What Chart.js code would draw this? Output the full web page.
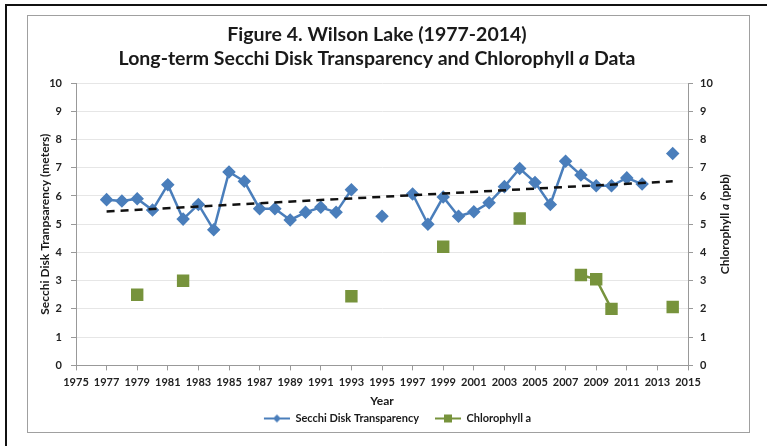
<!DOCTYPE html>
<html>
<head>
<meta charset="utf-8">
<script src="https://cdn.jsdelivr.net/npm/chart.js@4/dist/chart.umd.min.js"></script>
<style>
  body { margin: 0; background: #fff; width: 767px; height: 446px; overflow: hidden; position: relative; }
  #outer { position: absolute; left: 5px; top: 4px; width: 770px; height: 440px;
           border-top: 2px solid #111; border-left: 2px solid #111; border-bottom: 1px solid #999; }
  #frame { position: absolute; left: 27px; top: 15px; width: 721px; height: 416px;
           border: 1px solid #a0a0a0; overflow: hidden; background: #fff; }
  #frame canvas { display: block; }
</style>
</head>
<body>
<div id="outer"></div>
<div id="frame"><canvas id="wilsonChart" width="721" height="418"></canvas></div>
<script>
// Годы и данные
const years = [1977, 1978, 1979, 1980, 1981, 1982, 1983, 1984, 1985, 1986,
               1987, 1988, 1989, 1990, 1991, 1992, 1993, 1994, 1995, 1996,
               1997, 1998, 1999, 2000, 2001, 2002, 2003, 2004, 2005, 2006,
               2007, 2008, 2009, 2010, 2011, 2012, 2013, 2014];
const secchi = [5.87, 5.82, 5.9, 5.5, 6.4, 5.18, 5.7, 4.8, 6.85, 6.52,
                5.55, 5.55, 5.15, 5.42, 5.6, 5.42, 6.22, null, 5.28, null,
                6.07, 5.0, 5.96, 5.28, 5.44, 5.76, 6.33, 6.97, 6.48, 5.7,
                7.23, 6.74, 6.36, 6.36, 6.64, 6.42, null, 7.5];
const chlorophyll = [null, null, 2.5, null, null, 3.0, null, null, null, null,
                     null, null, null, null, null, null, 2.45, null, null, null,
                     null, null, 4.2, null, null, null, null, 5.2, null, null,
                     null, 3.2, 3.05, 2.0, null, null, null, 2.07];
const trendYears = [1977, 2014];
const trendValues = [5.45, 6.52];

const BLUE = '#4a7ebb';
const GREEN = '#77933c';
const FONT = 'Lato, "Open Sans", sans-serif';
const TEXT = '#1a1a1a';

// Значок легенды: линия с маркером (слева пустое место — отступ между пунктами)
function legendIcon(color, shape) {
    const c = document.createElement('canvas');
    c.width = 40; c.height = 12;
    const g = c.getContext('2d');
    g.strokeStyle = color; g.lineWidth = 2;
    g.beginPath(); g.moveTo(14, 6); g.lineTo(40, 6); g.stroke();
    g.fillStyle = color;
    if (shape === 'diamond') {
        g.beginPath(); g.moveTo(27, 2); g.lineTo(31, 6); g.lineTo(27, 10); g.lineTo(23, 6); g.closePath(); g.fill();
    } else {
        g.fillRect(23, 2, 8, 8);
    }
    return c;
}

// Текст из кусков, часть курсивом
function drawRuns(ctx, runs, size, cx, cy) {
    const fontOf = r => (r.italic ? 'italic ' : '') + 'bold ' + size + 'px ' + FONT;
    let total = 0;
    runs.forEach(r => { ctx.font = fontOf(r); total += ctx.measureText(r.t).width; });
    let x = cx - total / 2;
    ctx.textAlign = 'left';
    ctx.textBaseline = 'middle';
    ctx.fillStyle = TEXT;
    runs.forEach(r => { ctx.font = fontOf(r); ctx.fillText(r.t, x, cy); x += ctx.measureText(r.t).width; });
}

// Заголовок и подпись правой оси
const customText = {
    id: 'customText',
    afterDraw(chart) {
        const ctx = chart.ctx;
        const mid = 349;
        ctx.save();
        drawRuns(ctx, [{ t: 'Figure 4. Wilson Lake (1977-2014)' }], 19.5, mid, 19);
        drawRuns(ctx, [{ t: 'Long-term Secchi Disk Transparency and Chlorophyll ' }, { t: 'a', italic: true }, { t: ' Data' }], 19.5, mid, 43);
        const area = chart.chartArea;
        ctx.translate(697, (area.top + area.bottom) / 2);
        ctx.rotate(-Math.PI / 2);
        drawRuns(ctx, [{ t: 'Chlorophyll ' }, { t: 'a', italic: true }, { t: ' (ppb)' }], 12, 0, 0);
        ctx.restore();
    }
};

const toXY = (vals, xs) => xs.map((x, i) => ({ x: x, y: vals[i] }));
const tickFont = { family: FONT, size: 11, weight: 'bold' };

new Chart(document.getElementById('wilsonChart'), {
    type: 'line',
    data: {
        datasets: [{
            label: 'Secchi Disk Transparency',
            data: toXY(secchi, years),
            borderColor: BLUE,
            backgroundColor: BLUE,
            borderWidth: 2.5,
            pointStyle: 'rectRot',
            pointRadius: 5,
            pointHoverRadius: 5,
            yAxisID: 'y',
            spanGaps: false,
            order: 2
        }, {
            label: 'Chlorophyll a',
            data: toXY(chlorophyll, years),
            borderColor: GREEN,
            backgroundColor: GREEN,
            borderWidth: 2.5,
            pointStyle: 'rect',
            pointRadius: 7,
            pointHoverRadius: 7,
            yAxisID: 'y2',
            spanGaps: false,
            order: 3
        }, {
            label: 'trend',
            data: toXY(trendValues, trendYears),
            borderColor: '#111',
            borderWidth: 2.5,
            borderDash: [8, 6],
            pointRadius: 0,
            yAxisID: 'y',
            order: 1
        }]
    },
    options: {
        responsive: false,
        animation: false,
        layout: { padding: { left: 4, right: 0, top: 67, bottom: 0 } },
        plugins: {
            title: { display: false },
            legend: {
                position: 'bottom',
                labels: {
                    color: TEXT,
                    font: { family: FONT, size: 11, weight: 'bold' },
                    usePointStyle: true,
                    pointStyleWidth: 40,
                    boxHeight: 11,
                    padding: 2,
                    filter: item => item.text !== 'trend',
                    generateLabels: chart => chart.data.datasets.map((ds, i) => ({
                        text: ds.label,
                        pointStyle: legendIcon(ds.borderColor, i === 0 ? 'diamond' : 'square'),
                        datasetIndex: i,
                        fontColor: TEXT,
                        lineWidth: 0
                    }))
                }
            },
            tooltip: { enabled: false }
        },
        scales: {
            x: {
                type: 'linear',
                min: 1975,
                max: 2015,
                afterFit: s => { s.paddingLeft = 0; s.paddingRight = 0; },
                ticks: {
                    stepSize: 2,
                    color: '#222',
                    font: tickFont,
                    callback: v => String(v),
                    maxRotation: 0,
                    autoSkip: false,
                    padding: 5
                },
                grid: { drawOnChartArea: false, color: '#999', tickLength: 5 },
                border: { color: '#999' },
                title: {
                    display: true,
                    text: 'Year',
                    color: TEXT,
                    font: { family: FONT, size: 12, weight: 'bold' },
                    padding: { top: 0, bottom: 3 }
                }
            },
            y: {
                position: 'left',
                min: 0,
                max: 10,
                afterFit: s => { s.width = 44; },
                ticks: { stepSize: 1, color: '#222', font: tickFont, padding: 9 },
                grid: { color: '#e6e6e6', tickLength: 5, tickColor: '#999' },
                border: { color: '#999' },
                title: {
                    display: true,
                    text: 'Secchi Disk Tranpsarency (meters)',
                    color: TEXT,
                    font: { family: FONT, size: 12, weight: 'bold' },
                    padding: { top: 6, bottom: 2 }
                }
            },
            y2: {
                position: 'right',
                min: 0,
                max: 10,
                afterFit: s => { s.width = 61; },
                ticks: { stepSize: 1, color: '#222', font: tickFont, padding: 7 },
                grid: { drawOnChartArea: false, color: '#999', tickLength: 5 },
                border: { color: '#999' },
                title: { display: false }
            }
        }
    },
    plugins: [customText]
});
</script>
</body>
</html>
